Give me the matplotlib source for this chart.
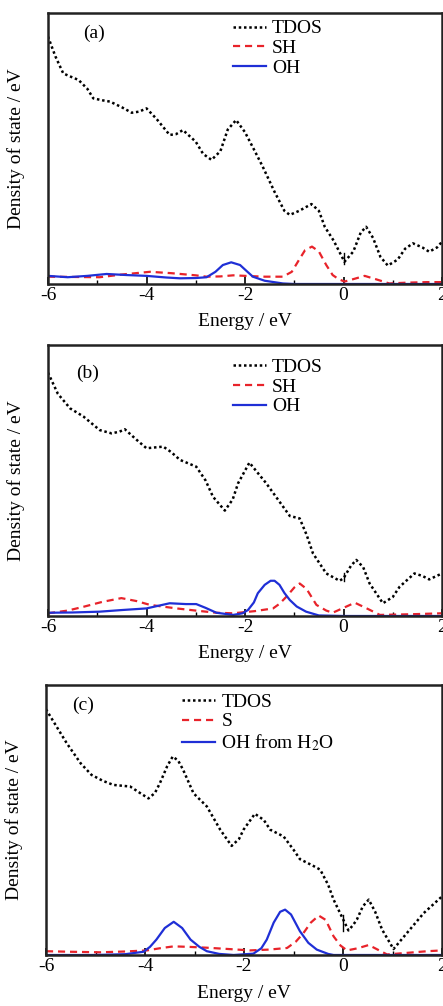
import matplotlib
matplotlib.use("Agg")
import matplotlib.pyplot as plt
from matplotlib.ticker import MultipleLocator

plt.rcParams['font.family'] = ['Liberation Serif', 'DejaVu Serif']
plt.rcParams['mathtext.fontset'] = 'stix'
plt.rcParams['axes.unicode_minus'] = False

# ---------------- Data ----------------
# Panel (a)
a_tdos_e = [-6.0, -5.85, -5.69, -5.5, -5.38, -5.2, -5.08, -4.9, -4.74, -4.5, -4.30, -4.15, -4.0, -3.8, -3.53,
            -3.4, -3.26, -3.0, -2.85, -2.68, -2.5, -2.35, -2.18, -2.0, -1.8, -1.64, -1.4, -1.2, -1.09, -0.9,
            -0.65, -0.5, -0.38, -0.2, 0.02, 0.2, 0.35, 0.46, 0.6, 0.75, 0.90, 1.1, 1.25, 1.41, 1.6, 1.74, 1.9, 2.0]
a_tdos = [0.913, 0.84, 0.777, 0.762, 0.753, 0.72, 0.685, 0.678, 0.673, 0.652, 0.632, 0.636, 0.648, 0.61, 0.55,
          0.553, 0.568, 0.525, 0.48, 0.458, 0.49, 0.57, 0.605, 0.56, 0.49, 0.433, 0.34, 0.27, 0.255, 0.27,
          0.295, 0.27, 0.211, 0.16, 0.082, 0.12, 0.19, 0.211, 0.17, 0.1, 0.068, 0.09, 0.13, 0.15, 0.135, 0.119, 0.135, 0.156]
a_sh_e = [-6.0, -5.5, -4.95, -4.5, -3.93, -3.5, -3.0, -2.78, -2.5, -2.24, -2.0, -1.6, -1.23, -1.05, -0.9, -0.78,
          -0.64, -0.5, -0.35, -0.22, -0.1, 0.02, 0.2, 0.43, 0.65, 0.93, 1.3, 1.7, 2.0]
a_sh = [0.027, 0.026, 0.025, 0.035, 0.045, 0.04, 0.032, 0.027, 0.028, 0.032, 0.03, 0.027, 0.027, 0.045, 0.09, 0.125,
        0.138, 0.12, 0.07, 0.033, 0.018, 0.009, 0.018, 0.03, 0.018, 0.002, 0.005, 0.007, 0.007]
a_oh_e = [-6.0, -5.6, -5.2, -4.81, -4.4, -4.0, -3.6, -3.32, -3.0, -2.78, -2.6, -2.45, -2.28, -2.1, -1.95, -1.84,
          -1.6, -1.23, -1.0, 0.0, 1.0, 2.0]
a_oh = [0.03, 0.025, 0.03, 0.037, 0.033, 0.03, 0.024, 0.021, 0.022, 0.025, 0.045, 0.07, 0.08, 0.07, 0.045, 0.027,
        0.012, 0.002, 0.0, 0.0, 0.0, 0.0]

# Panel (b)
b_tdos_e = [-6.0, -5.8, -5.55, -5.28, -4.95, -4.71, -4.55, -4.44, -4.2, -4.0, -3.66, -3.5, -3.32, -2.99, -2.8,
            -2.65, -2.41, -2.25, -2.14, -1.91, -1.75, -1.57, -1.30, -1.09, -0.89, -0.75, -0.62, -0.35, -0.08, 0.0,
            0.15, 0.26, 0.4, 0.53, 0.8, 1.0, 1.14, 1.44, 1.6, 1.74, 2.0]
b_tdos = [0.898, 0.82, 0.766, 0.736, 0.686, 0.674, 0.68, 0.689, 0.65, 0.619, 0.625, 0.605, 0.576, 0.551, 0.5,
          0.44, 0.389, 0.43, 0.49, 0.566, 0.53, 0.49, 0.422, 0.369, 0.36, 0.3, 0.231, 0.157, 0.13, 0.139,
          0.185, 0.207, 0.18, 0.12, 0.047, 0.07, 0.108, 0.157, 0.148, 0.135, 0.157]
b_sh_e = [-6.0, -5.6, -5.28, -4.9, -4.51, -4.2, -3.93, -3.39, -3.0, -2.58, -2.24, -1.8, -1.43, -1.3, -1.16, -1.0,
          -0.89, -0.75, -0.55, -0.35, -0.22, 0.0, 0.23, 0.45, 0.74, 1.0, 1.48, 2.0]
b_sh = [0.01, 0.02, 0.034, 0.052, 0.066, 0.055, 0.041, 0.028, 0.02, 0.012, 0.01, 0.018, 0.028, 0.045, 0.071, 0.105,
        0.12, 0.1, 0.041, 0.02, 0.012, 0.03, 0.049, 0.03, 0.004, 0.005, 0.007, 0.01]
b_oh_e = [-6.0, -5.5, -4.95, -4.5, -4.0, -3.53, -3.2, -2.99, -2.8, -2.58, -2.24, -2.05, -1.94, -1.82, -1.74, -1.6,
          -1.48, -1.40, -1.3, -1.2, -1.09, -0.95, -0.76, -0.5, 0.0, 1.0, 2.0]
b_oh = [0.012, 0.013, 0.016, 0.022, 0.028, 0.047, 0.044, 0.044, 0.03, 0.012, 0.004, 0.01, 0.022, 0.05, 0.084, 0.115,
        0.13, 0.13, 0.115, 0.085, 0.059, 0.035, 0.016, 0.002, 0.0, 0.0, 0.0]

# Panel (c)
c_tdos_e = [-6.0, -5.8, -5.58, -5.3, -5.08, -4.85, -4.64, -4.30, -4.1, -3.93, -3.80, -3.70, -3.55, -3.44, -3.33,
            -3.23, -3.02, -2.75, -2.48, -2.25, -2.1, -2.01, -1.78, -1.6, -1.47, -1.20, -1.0, -0.87, -0.6, -0.46,
            -0.3, -0.19, 0.11, 0.2, 0.28, 0.4, 0.52, 0.65, 0.79, 1.02, 1.29, 1.63, 2.0]
c_tdos = [0.91, 0.85, 0.784, 0.71, 0.667, 0.645, 0.63, 0.624, 0.6, 0.58, 0.6, 0.636, 0.7, 0.735, 0.72,
          0.686, 0.599, 0.55, 0.464, 0.404, 0.43, 0.464, 0.523, 0.5, 0.464, 0.439, 0.39, 0.355, 0.33, 0.316,
          0.26, 0.205, 0.091, 0.11, 0.131, 0.18, 0.205, 0.16, 0.094, 0.022, 0.081, 0.155, 0.217]
c_s_e = [-6.0, -5.5, -4.91, -4.4, -3.96, -3.7, -3.42, -3.1, -2.75, -2.3, -1.88, -1.5, -1.13, -0.95, -0.8, -0.65,
         -0.49, -0.35, -0.19, -0.05, 0.08, 0.3, 0.52, 0.7, 0.89, 1.3, 1.7, 2.0]
c_s = [0.014, 0.012, 0.01, 0.013, 0.017, 0.025, 0.032, 0.03, 0.027, 0.022, 0.017, 0.02, 0.026, 0.05, 0.081, 0.12,
       0.146, 0.13, 0.069, 0.035, 0.017, 0.025, 0.037, 0.02, 0.002, 0.008, 0.014, 0.017]
c_oh_e = [-6.0, -5.0, -4.4, -4.03, -3.9, -3.77, -3.6, -3.42, -3.25, -3.08, -2.9, -2.75, -2.5, -2.21, -1.81, -1.65,
          -1.54, -1.4, -1.27, -1.17, -1.05, -0.87, -0.7, -0.53, -0.3, -0.19, 0.0, 1.0, 2.0]
c_oh = [0.0, 0.0, 0.003, 0.012, 0.03, 0.057, 0.1, 0.123, 0.1, 0.057, 0.03, 0.014, 0.004, 0.0, 0.005, 0.025,
        0.057, 0.12, 0.16, 0.168, 0.15, 0.088, 0.045, 0.02, 0.004, 0.0, 0.0, 0.0, 0.0]

# Short marks at the Fermi level (E = 0)
fermi_marks = [(0.075, 0.115), (0.13, 0.16), (0.09, 0.15)]

panel_letters = ['(a)', '(b)', '(c)']
legend_labels = [['TDOS', 'SH', 'OH'], ['TDOS', 'SH', 'OH'], ['TDOS', 'S', r'OH from H$_2$O']]
xticks = [-6, -4, -2, 0, 2]

panels = [
    (a_tdos_e, a_tdos, a_sh_e, a_sh, a_oh_e, a_oh),
    (b_tdos_e, b_tdos, b_sh_e, b_sh, b_oh_e, b_oh),
    (c_tdos_e, c_tdos, c_s_e, c_s, c_oh_e, c_oh),
]

# ---------------- Layout ----------------
W, H = 443, 1006
fig = plt.figure(figsize=(W / 100, H / 100), dpi=100)
rects = [(48, 13, 442, 284), (48, 345, 442, 616), (46, 685, 442, 955)]
leg_anchor = [(0.435, 1.025), (0.435, 1.0), (0.31, 1.02)]
letter_pos = [(0.09, 0.925), (0.072, 0.895), (0.065, 0.925)]

for i, (rect, data) in enumerate(zip(rects, panels)):
    x0, y0, x1, y1 = rect
    ax = fig.add_axes([x0 / W, 1 - y1 / H, (x1 - x0) / W, (y1 - y0) / H])
    te, t, se, s, oe, o = data
    l1, = ax.plot(te, t, color='black', lw=1.8, linestyle=(0, (1, 1.1)), label=legend_labels[i][0])
    l2, = ax.plot(se, s, color='#e8232a', lw=1.6, linestyle=(0, (3.2, 2.2)), label=legend_labels[i][1])
    l3, = ax.plot(oe, o, color='#1f2fd6', lw=1.6, label=legend_labels[i][2])
    fm = fermi_marks[i]
    ax.plot([0, 0], fm, color='black', lw=1.0)
    ax.set_xlim(-6, 2)
    ax.set_ylim(0, 1)
    ax.set_xticks(xticks)
    ax.xaxis.set_minor_locator(MultipleLocator(1))
    ax.set_yticks([])
    ax.tick_params(axis='x', which='both', direction='in', top=False, labelsize=14, pad=2)
    ax.tick_params(axis='x', which='major', length=5, width=1.2)
    ax.tick_params(axis='x', which='minor', length=3, width=1.0)
    for sp in ax.spines.values():
        sp.set_linewidth(1.8)
        sp.set_color('#222222')
    ax.set_xlabel('Energy / eV', fontsize=14, labelpad=7)
    ax.set_ylabel('Density of state / eV', fontsize=14, labelpad=6)
    ax.yaxis.set_label_coords(-0.058, 0.5)
    ax.text(letter_pos[i][0], letter_pos[i][1], panel_letters[i], transform=ax.transAxes,
            fontsize=14, ha='left', va='center')
    ax.legend(handles=[l1, l2, l3], loc='upper left', bbox_to_anchor=leg_anchor[i],
              frameon=False, fontsize=14, handlelength=1.7, handletextpad=0.3,
              labelspacing=0.1, borderpad=0.2)

fig.savefig('out.png', dpi=100)
